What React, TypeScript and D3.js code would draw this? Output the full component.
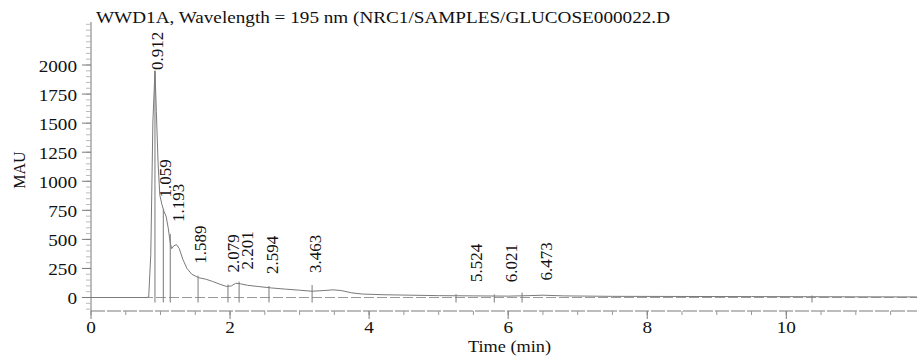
import React from 'react';
import * as d3 from 'd3';

// chromatogram trace (time in min, signal in mAU)
const times = [
  0, 0.4, 0.8, 0.83, 0.86, 0.89, 0.92, 0.94, 0.965, 0.99, 1.02, 1.05, 1.08, 1.11, 1.14, 1.16,
  1.19, 1.23, 1.27, 1.32, 1.38, 1.45, 1.55, 1.65, 1.75, 1.85, 1.95, 2.02, 2.08, 2.15, 2.25, 2.4,
  2.6, 2.8, 3.0, 3.18, 3.35, 3.48, 3.6, 3.75, 3.9, 4.2, 4.6, 5.0, 5.5, 6.0, 6.3, 6.5, 6.8, 7.5,
  8.5, 9.5, 10.3, 11.0, 11.88,
];
const signal = [
  0, 0, 0, 5, 370, 1510, 1950, 1600, 1150, 880, 800, 740, 700, 600, 470, 420,
  445, 455, 420, 330, 250, 200, 170, 158, 138, 115, 95, 100, 122, 118, 105, 95,
  82, 72, 63, 54, 60, 66, 60, 40, 30, 24, 20, 16, 14, 12, 16, 20, 14, 10,
  9, 8, 7, 6, 5,
];

// integrated peaks
const peakLabels = ['0.912', '1.059', '1.193', '1.589', '2.079', '2.201', '2.594', '3.463', '5.524', '6.021', '6.473'];
const labelTimes = [0.95, 1.065, 1.25, 1.57, 2.04, 2.245, 2.6, 3.22, 5.54, 6.04, 6.55];
const markerTimes = [0.92, 1.04, 1.14, 1.54, 1.97, 2.13, 2.56, 3.18, 5.25, 5.8, 6.2];
const peakHeights = [1950, 740, 530, 170, 95, 120, 82, 90, 12, 10, 25];
const extraMarkers = [10.37];

const yTicks = [0, 250, 500, 750, 1000, 1250, 1500, 1750, 2000];
const yTickLabels = ['0', '250', '500', '750', '1000', '1250', '1500', '1750', '2000'];
const xTicks = [0, 2, 4, 6, 8, 10];
const xTickLabels = ['0', '2', '4', '6', '8', '10'];

const title = 'WWD1A, Wavelength = 195 nm (NRC1/SAMPLES/GLUCOSE000022.D';
const font = '"Liberation Serif", "DejaVu Serif", serif';
const txt = { fontFamily: font, fill: '#111' } as React.CSSProperties;

const App: React.FC = () => {
  const x = d3.scaleLinear().domain([0, 11.88]).range([91, 917]);
  const y = d3.scaleLinear().domain([-116, 2370]).range([311, 22]);

  const line = d3
    .line<number>()
    .x((_, i) => x(times[i]))
    .y((d) => y(d));

  const yMinor = d3.range(-100, 2351, 50);
  const xMinor = d3.range(0, 11.9, 0.5);
  const axisY = 311;
  const gray = '#7a7a7a';

  return (
    <svg width={917} height={358} style={{ position: 'absolute', left: 0, top: 0, background: '#fff' }}>
      <text x={96} y={23} fontSize={17} textLength={574} lengthAdjust="spacingAndGlyphs" style={txt}>
        {title}
      </text>

      {/* y axis */}
      <line x1={91} x2={91} y1={22} y2={axisY} stroke={gray} strokeWidth={1} />
      {yMinor.map((v) => (
        <line key={'ym' + v} x1={86} x2={91} y1={y(v)} y2={y(v)} stroke="#aaa" strokeWidth={0.8} />
      ))}
      {yTicks.map((v, i) => (
        <g key={'yt' + v}>
          <line x1={82} x2={91} y1={y(v)} y2={y(v)} stroke={gray} />
          <text
            transform={`translate(77,${y(v) + 1}) scale(1.2,1)`}
            textAnchor="end"
            dy="0.35em"
            fontSize={16}
            style={txt}
          >
            {yTickLabels[i]}
          </text>
        </g>
      ))}
      <text transform="translate(19,170) rotate(-90)" textAnchor="middle" dy="0.35em" fontSize={16} style={txt}>
        MAU
      </text>

      {/* x axis */}
      <line x1={91} x2={917} y1={axisY} y2={axisY} stroke={gray} strokeDasharray="14,2" />
      {xMinor.map((v) => (
        <line key={'xm' + v} x1={x(v)} x2={x(v)} y1={axisY} y2={axisY + 4} stroke="#999" />
      ))}
      {xTicks.map((v, i) => (
        <g key={'xt' + v}>
          <line x1={x(v)} x2={x(v)} y1={axisY} y2={axisY + 8} stroke={gray} />
          <text transform={`translate(${x(v)},333) scale(1.2,1)`} textAnchor="middle" fontSize={16} style={txt}>
            {xTickLabels[i]}
          </text>
        </g>
      ))}
      <text x={509.5} y={352} textAnchor="middle" fontSize={16} textLength={83} lengthAdjust="spacingAndGlyphs" style={txt}>
        Time (min)
      </text>

      {/* baseline */}
      <line x1={91} x2={917} y1={y(0)} y2={y(0)} stroke="#9a9a9a" strokeDasharray="10,3" strokeWidth={1} />

      {/* trace */}
      <path d={line(signal) ?? ''} fill="none" stroke={gray} strokeWidth={1} />

      {/* peak markers + labels */}
      {peakLabels.map((lab, i) => {
        const top = y(peakHeights[i]);
        const len = 44;
        let base = top - 14;
        if (base - len < 26) base = 26 + len;
        return (
          <g key={lab}>
            <line
              x1={x(markerTimes[i])}
              x2={x(markerTimes[i])}
              y1={y(0) + 5}
              y2={i === 0 ? top : top - 2}
              stroke={gray}
              strokeWidth={1}
            />
            <text
              transform={`translate(${x(labelTimes[i])},${base}) rotate(-90)`}
              dy="0.35em"
              fontSize={17}
              style={txt}
            >
              {lab}
            </text>
          </g>
        );
      })}
      {extraMarkers.map((t) => (
        <line key={'em' + t} x1={x(t)} x2={x(t)} y1={y(0) - 2} y2={y(0) + 5} stroke={gray} />
      ))}
    </svg>
  );
};

export default App;
